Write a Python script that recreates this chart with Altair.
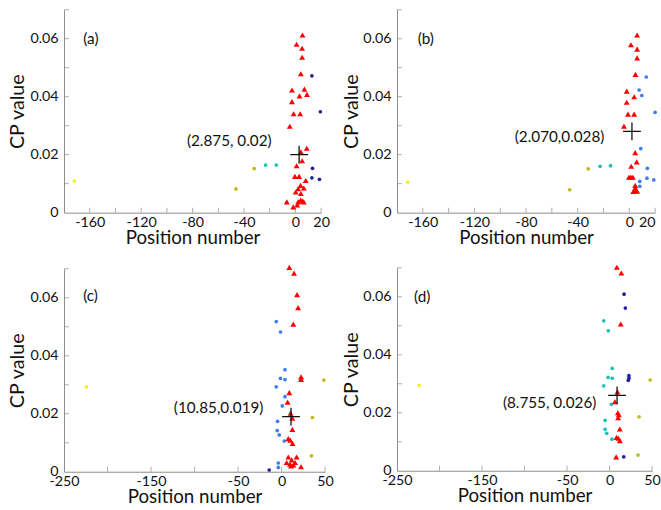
import altair as alt
import pandas as pd

# ---------------- data ----------------
# panel (a)
a_red_x = [5.5, 0.9, 5.2, 5.2, 4.2, -2.7, 7.0, 3.2, 9.0, -2.7, -1.4, 3.7, -4.4, 8.8, 4.2, 5.2, 0.9,
           -0.4, 2.9, 8.0, 4.0, 2.1, 6.5, 0.2, 4.2, 4.0, 2.1, 5.5, -6.7, -1.7, 1.4, 6.5]
a_red_y = [0.0613, 0.0581, 0.0567, 0.0536, 0.0479, 0.0423, 0.0426, 0.0403, 0.0408, 0.0383, 0.0341, 0.0341,
           0.0298, 0.0222, 0.0210, 0.0179, 0.0162, 0.0125, 0.0125, 0.0111, 0.0094, 0.0083, 0.0085, 0.0071,
           0.0066, 0.0043, 0.0037, 0.0040, 0.0037, 0.0020, 0.0027, 0.0037]
a_navy_x = [12.8, 19.4, 13.3, 12.8, 18.7]
a_navy_y = [0.0472, 0.0348, 0.0153, 0.0120, 0.0115]
a_cyan_x = [-23.2, -14.9]
a_cyan_y = [0.0164, 0.0164]
a_olive_x = [-32.1, -46.3]
a_olive_y = [0.0152, 0.0082]
a_yellow_x = [-172.0]
a_yellow_y = [0.0109]

# panel (b)
b_red_x = [6.1, 1.3, 6.1, 6.1, 4.8, -2.0, 3.8, -2.0, -1.0, 3.8, -4.1, 4.6, 5.8, 1.5, -0.3, 2.8,
           4.6, 4.1, 6.1, 3.1, 4.6, 1.2]
b_red_y = [0.0613, 0.0579, 0.0564, 0.0534, 0.0477, 0.0419, 0.0400, 0.0381, 0.0340, 0.0340, 0.0298,
           0.0207, 0.0175, 0.0160, 0.0122, 0.0122, 0.0094, 0.0077, 0.0074, 0.0073, 0.0085, 0.0123]
b_blue_x = [13.2, 7.6, 9.7, 20.0, 8.9, 14.0, 13.7, 19.0, 8.1, 8.1]
b_blue_y = [0.0468, 0.0423, 0.0404, 0.0346, 0.0221, 0.0153, 0.0119, 0.0113, 0.0108, 0.0091]
b_cyan_x = [-22.6, -14.5]
b_cyan_y = [0.0160, 0.0162]
b_olive_x = [-31.8, -46.2]
b_olive_y = [0.0151, 0.0079]
b_yellow_x = [-171.7]
b_yellow_y = [0.0105]

# panel (c)
c_red_x = [8.9, 14.3, 17.8, 19.0, 13.5, 22.4, 22.4, 8.9, 6.9, 10.4, 12.4, 12.4, 7.7, 10.0, 12.6,
           7.7, 17.3, 11.6, 5.8, 15.5, 9.7, 13.5, 22.4, 10.9]
c_red_y = [0.0705, 0.0685, 0.0611, 0.0566, 0.0509, 0.0327, 0.0318, 0.0273, 0.0240, 0.0202, 0.0185,
           0.0146, 0.0114, 0.0109, 0.0098, 0.0051, 0.0051, 0.0041, 0.0032, 0.0032, 0.0026, 0.0023,
           0.0017, 0.0020]
c_blue_x = [-6.1, -1.2, 3.9, -1.2, 3.9, -6.1, 3.9, 0.8, -4.6, -5.0, -2.7, 3.1, -3.8, -3.8]
c_blue_y = [0.0518, 0.0482, 0.0352, 0.0322, 0.0318, 0.0293, 0.0259, 0.0227, 0.0174, 0.0142, 0.0127,
            0.0106, 0.0030, 0.0015]
c_navy_x = [-14.2]
c_navy_y = [0.0006]
c_olive_x = [48.6, 35.5, 34.3]
c_olive_y = [0.0316, 0.0187, 0.0055]
c_yellow_x = [-224.3]
c_yellow_y = [0.0293]

# panel (d)
d_red_x = [8.5, 13.8, 13.1, 9.2, 6.2, 9.7, 10.8, 10.0, 12.0, 8.1, 10.4, 12.0, 7.7]
d_red_y = [0.0702, 0.0682, 0.0506, 0.0272, 0.0238, 0.0200, 0.0193, 0.0183, 0.0144, 0.0115, 0.0112,
           0.0104, 0.0048]
d_navy_x = [17.0, 18.5, 22.7, 22.7, 22.0, 16.6]
d_navy_y = [0.0609, 0.0561, 0.0328, 0.0319, 0.0312, 0.0048]
d_cyan_x = [-6.9, -1.5, 3.1, -1.8, 3.1, -6.9, 2.0, -5.3, -5.3, -3.4, 2.7]
d_cyan_y = [0.0517, 0.0483, 0.0353, 0.0322, 0.0319, 0.0293, 0.0229, 0.0174, 0.0143, 0.0129, 0.0109]
d_olive_x = [47.7, 34.6, 33.4]
d_olive_y = [0.0313, 0.0186, 0.0054]
d_yellow_x = [-223.8]
d_yellow_y = [0.0294]

# centroids and their labels
centre_x = [2.875, 2.070, 10.85, 8.755]
centre_y = [0.020, 0.028, 0.019, 0.026]
centre_text = ["(2.875, 0.02)", "(2.070,0.028)", "(10.85,0.019)", "(8.755, 0.026)"]
panel_tags = ["(a)", "(b)", "(c)", "(d)"]
tag_x = [-165, -164, -228, -230]
tag_y = [0.060, 0.060, 0.0606, 0.060]

top_x_labels = [-160, -120, -80, -40, 0, 20]
top_x_ticks = [-160, -140, -120, -100, -80, -60, -40, -20, 0, 20]
bot_x_labels = [-250, -150, -50, 0, 50]
bot_x_ticks = [-200, -150, -100, -50, 0, 50]
y_labels = [0, 0.02, 0.04, 0.06]
y_ticks = [0.01, 0.02, 0.03, 0.04, 0.05, 0.06, 0.07]

groups = ["navy", "cyan", "olive", "yellow", "blue"]
group_colors = ["#23209c", "#1fc0b8", "#c2b81c", "#f2f21a", "#3d7cf2"]

FONT = "Lato"
AXIS_GREY = "#8c8c8c"


def frame(series):
    rows = []
    for g, xs, ys in series:
        for x, y in zip(xs, ys):
            rows.append({"g": g, "x": x, "y": y})
    return pd.DataFrame(rows)


def panel(i, red, dots, xdom, width, xlabels, xticks, text_dx, text_dy, title_pad, flush=False):
    xs = alt.Scale(domain=xdom, nice=False, zero=False)
    ys = alt.Scale(domain=[0, 0.07], nice=False, zero=False)
    xaxis = alt.Axis(values=xlabels, labelExpr="'' + datum.value", title="Position number",
                     labelFlush=flush, titlePadding=0, labelPadding=3, titleFontSize=19)
    yaxis = alt.Axis(values=y_labels, title="CP value", titlePadding=title_pad, labelPadding=6,
                     titleFontSize=20,
                     labelExpr="datum.value == 0 ? '0' : format(datum.value, '.2f')")
    base = alt.Chart(frame(dots))
    dots_l = base.mark_point(filled=True, opacity=1, size=14, shape="circle").encode(
        x=alt.X("x:Q", scale=xs, axis=xaxis),
        y=alt.Y("y:Q", scale=ys, axis=yaxis),
        color=alt.Color("g:N", scale=alt.Scale(domain=groups, range=group_colors), legend=None),
    )
    red_l = alt.Chart(frame([("red", red[0], red[1])])).mark_point(
        filled=True, opacity=1, size=36, shape="triangle-up", color="#ff0000"
    ).encode(x=alt.X("x:Q", scale=xs), y=alt.Y("y:Q", scale=ys))

    xt = alt.Chart(pd.DataFrame({"t": xticks})).mark_tick(
        orient="vertical", size=5, thickness=1, color=AXIS_GREY, yOffset=-2.5
    ).encode(x=alt.X("t:Q", scale=xs), y=alt.datum(0))
    yt = alt.Chart(pd.DataFrame({"t": y_ticks})).mark_tick(
        orient="horizontal", size=5, thickness=1, color=AXIS_GREY, xOffset=2.5
    ).encode(y=alt.Y("t:Q", scale=ys), x=alt.datum(xdom[0]))

    cdf = pd.DataFrame({"x": [centre_x[i]], "y": [centre_y[i]], "t": [centre_text[i]]})
    cross = alt.Chart(cdf).mark_point(
        shape="M-1,0H1M0,-1V1", size=324, filled=False, stroke="#111111", strokeWidth=1.3, opacity=1
    ).encode(x=alt.X("x:Q", scale=xs), y=alt.Y("y:Q", scale=ys))
    ctext = alt.Chart(cdf).mark_text(
        align="right", baseline="middle", dx=text_dx, dy=text_dy, font=FONT, fontSize=15.5, color="#111111"
    ).encode(x=alt.X("x:Q", scale=xs), y=alt.Y("y:Q", scale=ys), text="t:N")

    tdf = pd.DataFrame({"x": [tag_x[i]], "y": [tag_y[i]], "t": [panel_tags[i]]})
    tag = alt.Chart(tdf).mark_text(
        align="left", baseline="middle", font=FONT, fontSize=15.5, color="#111111"
    ).encode(x=alt.X("x:Q", scale=xs), y=alt.Y("y:Q", scale=ys), text="t:N")

    return alt.layer(dots_l, xt, yt, red_l, cross, ctext, tag).properties(width=width, height=206)


pa = panel(0, (a_red_x, a_red_y),
           [("navy", a_navy_x, a_navy_y), ("cyan", a_cyan_x, a_cyan_y),
            ("olive", a_olive_x, a_olive_y), ("yellow", a_yellow_x, a_yellow_y)],
           [-180, 20], 261, top_x_labels, top_x_ticks, -28, -14, 2)
pb = panel(1, (b_red_x, b_red_y),
           [("blue", b_blue_x, b_blue_y), ("cyan", b_cyan_x, b_cyan_y),
            ("olive", b_olive_x, b_olive_y), ("yellow", b_yellow_x, b_yellow_y)],
           [-180, 20], 262, top_x_labels, top_x_ticks, -28, 6, 1, flush=True)
pc = panel(2, (c_red_x, c_red_y),
           [("blue", c_blue_x, c_blue_y), ("navy", c_navy_x, c_navy_y),
            ("olive", c_olive_x, c_olive_y), ("yellow", c_yellow_x, c_yellow_y)],
           [-250, 50], 265, bot_x_labels, bot_x_ticks, -28, -9, 2)
pd_ = panel(3, (d_red_x, d_red_y),
            [("navy", d_navy_x, d_navy_y), ("cyan", d_cyan_x, d_cyan_y),
             ("olive", d_olive_x, d_olive_y), ("yellow", d_yellow_x, d_yellow_y)],
            [-250, 50], 259, bot_x_labels, bot_x_ticks, -21, 8, 1)

chart = alt.concat(pa, pb, pc, pd_, columns=2, align="none",
                   spacing={"row": 16, "column": 8}).properties(
    padding={"left": 8, "top": 5, "right": 0, "bottom": 0}
).configure(background="white").configure_view(stroke=None).configure_axis(
    grid=False, ticks=False, tickSize=0, domainColor=AXIS_GREY, domainWidth=1,
    labelFont=FONT, labelFontSize=14.5, labelColor="#111111",
    titleFont=FONT, titleFontSize=19, titleFontWeight="normal", titleColor="#111111",
)

chart.save("out.html", embed_options={"renderer": "svg", "actions": False})
